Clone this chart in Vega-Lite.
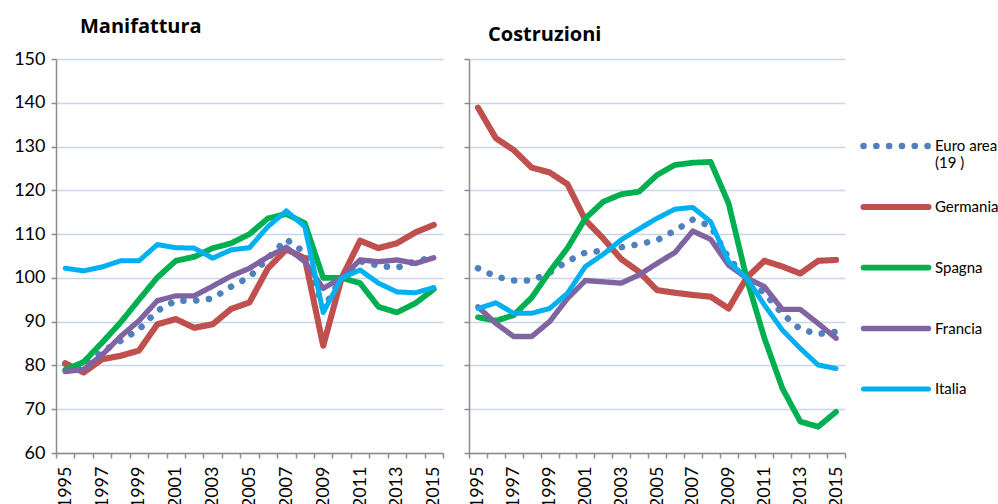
{
 "$schema": "https://vega.github.io/schema/vega-lite/v6.json",
 "background": "white",
 "padding": {"left": 13, "top": 17, "right": 5, "bottom": 5},
 "config": {
  "font": "Lato",
  "view": {"stroke": null},
  "concat": {"spacing": 16},
  "axis": {"domainColor": "#8c8c8c", "domainWidth": 1.5, "tickColor": "#8c8c8c", "tickWidth": 1.5, "tickSize": 5, "gridColor": "#C8D6EA", "gridWidth": 1.5, "labelFont": "Lato", "labelFontSize": 18, "labelColor": "#000000", "title": null},
  "title": {"font": "Open Sans", "fontSize": 20, "fontWeight": "bold", "color": "#000000", "anchor": "start", "frame": "group"},
  "legend": {"orient": "none", "legendX": 804, "legendY": 51, "symbolType": "stroke", "symbolSize": 4225, "symbolStrokeWidth": 5, "labelFont": "Lato", "labelFontSize": 15, "labelColor": "#000000", "labelLimit": 0, "labelOffset": 3, "rowPadding": 0, "gridAlign": "all", "title": null}
 },
 "resolve": {"scale": {"color": "shared", "strokeDash": "shared", "strokeWidth": "shared"}},
 "data": {"values": [
  {"p":"Manifattura","s":"Euro area (19 )","a":1995,"v":80.4},{"p":"Manifattura","s":"Euro area (19 )","a":1996,"v":79.6},{"p":"Manifattura","s":"Euro area (19 )","a":1997,"v":83.2},{"p":"Manifattura","s":"Euro area (19 )","a":1998,"v":85.6},{"p":"Manifattura","s":"Euro area (19 )","a":1999,"v":88.2},{"p":"Manifattura","s":"Euro area (19 )","a":2000,"v":92.5},{"p":"Manifattura","s":"Euro area (19 )","a":2001,"v":94.8},{"p":"Manifattura","s":"Euro area (19 )","a":2002,"v":94.8},{"p":"Manifattura","s":"Euro area (19 )","a":2003,"v":95.3},{"p":"Manifattura","s":"Euro area (19 )","a":2004,"v":98.0},{"p":"Manifattura","s":"Euro area (19 )","a":2005,"v":100.2},{"p":"Manifattura","s":"Euro area (19 )","a":2006,"v":104.5},{"p":"Manifattura","s":"Euro area (19 )","a":2007,"v":108.8},{"p":"Manifattura","s":"Euro area (19 )","a":2008,"v":105.8},{"p":"Manifattura","s":"Euro area (19 )","a":2009,"v":93.0},{"p":"Manifattura","s":"Euro area (19 )","a":2010,"v":100.0},{"p":"Manifattura","s":"Euro area (19 )","a":2011,"v":103.8},{"p":"Manifattura","s":"Euro area (19 )","a":2012,"v":102.8},{"p":"Manifattura","s":"Euro area (19 )","a":2013,"v":102.3},{"p":"Manifattura","s":"Euro area (19 )","a":2014,"v":103.8},{"p":"Manifattura","s":"Euro area (19 )","a":2015,"v":104.7},
  {"p":"Manifattura","s":"Germania","a":1995,"v":80.5},{"p":"Manifattura","s":"Germania","a":1996,"v":78.4},{"p":"Manifattura","s":"Germania","a":1997,"v":81.4},{"p":"Manifattura","s":"Germania","a":1998,"v":82.2},{"p":"Manifattura","s":"Germania","a":1999,"v":83.4},{"p":"Manifattura","s":"Germania","a":2000,"v":89.4},{"p":"Manifattura","s":"Germania","a":2001,"v":90.6},{"p":"Manifattura","s":"Germania","a":2002,"v":88.6},{"p":"Manifattura","s":"Germania","a":2003,"v":89.4},{"p":"Manifattura","s":"Germania","a":2004,"v":92.9},{"p":"Manifattura","s":"Germania","a":2005,"v":94.4},{"p":"Manifattura","s":"Germania","a":2006,"v":102.2},{"p":"Manifattura","s":"Germania","a":2007,"v":106.5},{"p":"Manifattura","s":"Germania","a":2008,"v":104.5},{"p":"Manifattura","s":"Germania","a":2009,"v":84.5},{"p":"Manifattura","s":"Germania","a":2010,"v":100.0},{"p":"Manifattura","s":"Germania","a":2011,"v":108.5},{"p":"Manifattura","s":"Germania","a":2012,"v":106.8},{"p":"Manifattura","s":"Germania","a":2013,"v":107.9},{"p":"Manifattura","s":"Germania","a":2014,"v":110.4},{"p":"Manifattura","s":"Germania","a":2015,"v":112.1},
  {"p":"Manifattura","s":"Spagna","a":1995,"v":79.0},{"p":"Manifattura","s":"Spagna","a":1996,"v":80.8},{"p":"Manifattura","s":"Spagna","a":1997,"v":85.2},{"p":"Manifattura","s":"Spagna","a":1998,"v":89.8},{"p":"Manifattura","s":"Spagna","a":1999,"v":95.0},{"p":"Manifattura","s":"Spagna","a":2000,"v":100.1},{"p":"Manifattura","s":"Spagna","a":2001,"v":103.9},{"p":"Manifattura","s":"Spagna","a":2002,"v":104.8},{"p":"Manifattura","s":"Spagna","a":2003,"v":106.8},{"p":"Manifattura","s":"Spagna","a":2004,"v":107.9},{"p":"Manifattura","s":"Spagna","a":2005,"v":110.0},{"p":"Manifattura","s":"Spagna","a":2006,"v":113.6},{"p":"Manifattura","s":"Spagna","a":2007,"v":114.6},{"p":"Manifattura","s":"Spagna","a":2008,"v":112.5},{"p":"Manifattura","s":"Spagna","a":2009,"v":100.0},{"p":"Manifattura","s":"Spagna","a":2010,"v":100.0},{"p":"Manifattura","s":"Spagna","a":2011,"v":98.8},{"p":"Manifattura","s":"Spagna","a":2012,"v":93.4},{"p":"Manifattura","s":"Spagna","a":2013,"v":92.1},{"p":"Manifattura","s":"Spagna","a":2014,"v":94.2},{"p":"Manifattura","s":"Spagna","a":2015,"v":97.4},
  {"p":"Manifattura","s":"Francia","a":1995,"v":78.6},{"p":"Manifattura","s":"Francia","a":1996,"v":79.1},{"p":"Manifattura","s":"Francia","a":1997,"v":82.4},{"p":"Manifattura","s":"Francia","a":1998,"v":86.6},{"p":"Manifattura","s":"Francia","a":1999,"v":90.2},{"p":"Manifattura","s":"Francia","a":2000,"v":94.8},{"p":"Manifattura","s":"Francia","a":2001,"v":95.9},{"p":"Manifattura","s":"Francia","a":2002,"v":95.9},{"p":"Manifattura","s":"Francia","a":2003,"v":98.1},{"p":"Manifattura","s":"Francia","a":2004,"v":100.4},{"p":"Manifattura","s":"Francia","a":2005,"v":102.2},{"p":"Manifattura","s":"Francia","a":2006,"v":104.8},{"p":"Manifattura","s":"Francia","a":2007,"v":107.0},{"p":"Manifattura","s":"Francia","a":2008,"v":103.7},{"p":"Manifattura","s":"Francia","a":2009,"v":97.6},{"p":"Manifattura","s":"Francia","a":2010,"v":100.0},{"p":"Manifattura","s":"Francia","a":2011,"v":104.1},{"p":"Manifattura","s":"Francia","a":2012,"v":103.7},{"p":"Manifattura","s":"Francia","a":2013,"v":104.1},{"p":"Manifattura","s":"Francia","a":2014,"v":103.3},{"p":"Manifattura","s":"Francia","a":2015,"v":104.6},
  {"p":"Manifattura","s":"Italia","a":1995,"v":102.2},{"p":"Manifattura","s":"Italia","a":1996,"v":101.6},{"p":"Manifattura","s":"Italia","a":1997,"v":102.5},{"p":"Manifattura","s":"Italia","a":1998,"v":103.9},{"p":"Manifattura","s":"Italia","a":1999,"v":103.9},{"p":"Manifattura","s":"Italia","a":2000,"v":107.6},{"p":"Manifattura","s":"Italia","a":2001,"v":106.9},{"p":"Manifattura","s":"Italia","a":2002,"v":106.8},{"p":"Manifattura","s":"Italia","a":2003,"v":104.5},{"p":"Manifattura","s":"Italia","a":2004,"v":106.4},{"p":"Manifattura","s":"Italia","a":2005,"v":106.9},{"p":"Manifattura","s":"Italia","a":2006,"v":111.7},{"p":"Manifattura","s":"Italia","a":2007,"v":115.3},{"p":"Manifattura","s":"Italia","a":2008,"v":111.7},{"p":"Manifattura","s":"Italia","a":2009,"v":92.1},{"p":"Manifattura","s":"Italia","a":2010,"v":100.0},{"p":"Manifattura","s":"Italia","a":2011,"v":101.8},{"p":"Manifattura","s":"Italia","a":2012,"v":98.8},{"p":"Manifattura","s":"Italia","a":2013,"v":96.8},{"p":"Manifattura","s":"Italia","a":2014,"v":96.6},{"p":"Manifattura","s":"Italia","a":2015,"v":97.8},
  {"p":"Costruzioni","s":"Euro area (19 )","a":1995,"v":102.2},{"p":"Costruzioni","s":"Euro area (19 )","a":1996,"v":100.3},{"p":"Costruzioni","s":"Euro area (19 )","a":1997,"v":99.4},{"p":"Costruzioni","s":"Euro area (19 )","a":1998,"v":99.4},{"p":"Costruzioni","s":"Euro area (19 )","a":1999,"v":101.2},{"p":"Costruzioni","s":"Euro area (19 )","a":2000,"v":103.8},{"p":"Costruzioni","s":"Euro area (19 )","a":2001,"v":105.8},{"p":"Costruzioni","s":"Euro area (19 )","a":2002,"v":106.2},{"p":"Costruzioni","s":"Euro area (19 )","a":2003,"v":107.0},{"p":"Costruzioni","s":"Euro area (19 )","a":2004,"v":107.7},{"p":"Costruzioni","s":"Euro area (19 )","a":2005,"v":108.6},{"p":"Costruzioni","s":"Euro area (19 )","a":2006,"v":110.8},{"p":"Costruzioni","s":"Euro area (19 )","a":2007,"v":113.3},{"p":"Costruzioni","s":"Euro area (19 )","a":2008,"v":111.8},{"p":"Costruzioni","s":"Euro area (19 )","a":2009,"v":104.5},{"p":"Costruzioni","s":"Euro area (19 )","a":2010,"v":100.0},{"p":"Costruzioni","s":"Euro area (19 )","a":2011,"v":96.5},{"p":"Costruzioni","s":"Euro area (19 )","a":2012,"v":91.8},{"p":"Costruzioni","s":"Euro area (19 )","a":2013,"v":88.3},{"p":"Costruzioni","s":"Euro area (19 )","a":2014,"v":87.2},{"p":"Costruzioni","s":"Euro area (19 )","a":2015,"v":87.7},
  {"p":"Costruzioni","s":"Germania","a":1995,"v":138.9},{"p":"Costruzioni","s":"Germania","a":1996,"v":131.9},{"p":"Costruzioni","s":"Germania","a":1997,"v":129.2},{"p":"Costruzioni","s":"Germania","a":1998,"v":125.2},{"p":"Costruzioni","s":"Germania","a":1999,"v":124.1},{"p":"Costruzioni","s":"Germania","a":2000,"v":121.4},{"p":"Costruzioni","s":"Germania","a":2001,"v":113.2},{"p":"Costruzioni","s":"Germania","a":2002,"v":109.0},{"p":"Costruzioni","s":"Germania","a":2003,"v":104.3},{"p":"Costruzioni","s":"Germania","a":2004,"v":101.4},{"p":"Costruzioni","s":"Germania","a":2005,"v":97.2},{"p":"Costruzioni","s":"Germania","a":2006,"v":96.6},{"p":"Costruzioni","s":"Germania","a":2007,"v":96.1},{"p":"Costruzioni","s":"Germania","a":2008,"v":95.7},{"p":"Costruzioni","s":"Germania","a":2009,"v":93.0},{"p":"Costruzioni","s":"Germania","a":2010,"v":100.0},{"p":"Costruzioni","s":"Germania","a":2011,"v":103.9},{"p":"Costruzioni","s":"Germania","a":2012,"v":102.6},{"p":"Costruzioni","s":"Germania","a":2013,"v":101.0},{"p":"Costruzioni","s":"Germania","a":2014,"v":103.9},{"p":"Costruzioni","s":"Germania","a":2015,"v":104.1},
  {"p":"Costruzioni","s":"Spagna","a":1995,"v":91.0},{"p":"Costruzioni","s":"Spagna","a":1996,"v":90.2},{"p":"Costruzioni","s":"Spagna","a":1997,"v":91.5},{"p":"Costruzioni","s":"Spagna","a":1998,"v":95.5},{"p":"Costruzioni","s":"Spagna","a":1999,"v":101.4},{"p":"Costruzioni","s":"Spagna","a":2000,"v":106.8},{"p":"Costruzioni","s":"Spagna","a":2001,"v":113.6},{"p":"Costruzioni","s":"Spagna","a":2002,"v":117.4},{"p":"Costruzioni","s":"Spagna","a":2003,"v":119.1},{"p":"Costruzioni","s":"Spagna","a":2004,"v":119.7},{"p":"Costruzioni","s":"Spagna","a":2005,"v":123.5},{"p":"Costruzioni","s":"Spagna","a":2006,"v":125.8},{"p":"Costruzioni","s":"Spagna","a":2007,"v":126.3},{"p":"Costruzioni","s":"Spagna","a":2008,"v":126.5},{"p":"Costruzioni","s":"Spagna","a":2009,"v":117.0},{"p":"Costruzioni","s":"Spagna","a":2010,"v":100.0},{"p":"Costruzioni","s":"Spagna","a":2011,"v":86.2},{"p":"Costruzioni","s":"Spagna","a":2012,"v":74.8},{"p":"Costruzioni","s":"Spagna","a":2013,"v":67.2},{"p":"Costruzioni","s":"Spagna","a":2014,"v":66.0},{"p":"Costruzioni","s":"Spagna","a":2015,"v":69.4},
  {"p":"Costruzioni","s":"Francia","a":1995,"v":93.4},{"p":"Costruzioni","s":"Francia","a":1996,"v":89.6},{"p":"Costruzioni","s":"Francia","a":1997,"v":86.6},{"p":"Costruzioni","s":"Francia","a":1998,"v":86.6},{"p":"Costruzioni","s":"Francia","a":1999,"v":90.0},{"p":"Costruzioni","s":"Francia","a":2000,"v":95.3},{"p":"Costruzioni","s":"Francia","a":2001,"v":99.4},{"p":"Costruzioni","s":"Francia","a":2002,"v":99.1},{"p":"Costruzioni","s":"Francia","a":2003,"v":98.8},{"p":"Costruzioni","s":"Francia","a":2004,"v":100.7},{"p":"Costruzioni","s":"Francia","a":2005,"v":103.3},{"p":"Costruzioni","s":"Francia","a":2006,"v":105.8},{"p":"Costruzioni","s":"Francia","a":2007,"v":110.7},{"p":"Costruzioni","s":"Francia","a":2008,"v":108.8},{"p":"Costruzioni","s":"Francia","a":2009,"v":102.9},{"p":"Costruzioni","s":"Francia","a":2010,"v":100.0},{"p":"Costruzioni","s":"Francia","a":2011,"v":98.0},{"p":"Costruzioni","s":"Francia","a":2012,"v":92.8},{"p":"Costruzioni","s":"Francia","a":2013,"v":92.8},{"p":"Costruzioni","s":"Francia","a":2014,"v":89.6},{"p":"Costruzioni","s":"Francia","a":2015,"v":86.2},
  {"p":"Costruzioni","s":"Italia","a":1995,"v":93.0},{"p":"Costruzioni","s":"Italia","a":1996,"v":94.3},{"p":"Costruzioni","s":"Italia","a":1997,"v":91.9},{"p":"Costruzioni","s":"Italia","a":1998,"v":91.9},{"p":"Costruzioni","s":"Italia","a":1999,"v":93.0},{"p":"Costruzioni","s":"Italia","a":2000,"v":96.5},{"p":"Costruzioni","s":"Italia","a":2001,"v":102.6},{"p":"Costruzioni","s":"Italia","a":2002,"v":105.4},{"p":"Costruzioni","s":"Italia","a":2003,"v":108.7},{"p":"Costruzioni","s":"Italia","a":2004,"v":111.2},{"p":"Costruzioni","s":"Italia","a":2005,"v":113.6},{"p":"Costruzioni","s":"Italia","a":2006,"v":115.7},{"p":"Costruzioni","s":"Italia","a":2007,"v":116.1},{"p":"Costruzioni","s":"Italia","a":2008,"v":112.8},{"p":"Costruzioni","s":"Italia","a":2009,"v":103.7},{"p":"Costruzioni","s":"Italia","a":2010,"v":100.0},{"p":"Costruzioni","s":"Italia","a":2011,"v":93.8},{"p":"Costruzioni","s":"Italia","a":2012,"v":88.1},{"p":"Costruzioni","s":"Italia","a":2013,"v":83.9},{"p":"Costruzioni","s":"Italia","a":2014,"v":80.1},{"p":"Costruzioni","s":"Italia","a":2015,"v":79.3}
 ]},
 "hconcat": [
  {
   "title": {"text": "Manifattura", "dx": 24, "offset": 13},
   "width": 387, "height": 394,
   "transform": [{"filter": "datum.p == 'Manifattura'"}],
   "mark": {"type": "line", "strokeCap": "round", "strokeJoin": "round"},
   "encoding": {
    "x": {"field": "a", "type": "ordinal", "bandPosition": 0.5, "scale": {"type": "band", "paddingInner": 0, "paddingOuter": 0},
          "axis": {"grid": false, "tickBand": "extent", "labelAngle": -90, "labelPadding": 8, "labelExpr": "datum.value % 2 == 1 ? datum.label : ''"}},
    "y": {"field": "v", "type": "quantitative", "scale": {"domain": [60, 150], "nice": false, "zero": false},
          "axis": {"values": [60, 70, 80, 90, 100, 110, 120, 130, 140, 150], "grid": true, "labelPadding": 6}},
    "color": {"field": "s", "type": "nominal", "scale": {"domain": ["Euro area (19 )", "Germania", "Spagna", "Francia", "Italia"], "range": ["#4F81BD", "#C0504D", "#00B050", "#8064A2", "#00B0F0"]},
              "legend": {"labelExpr": "datum.label == 'Euro area (19 )' ? ['Euro area', '(19 )'] : datum.label", "encode": {"symbols": {"update": {"strokeCap": {"value": "round"}}}}}},
    "strokeDash": {"field": "s", "type": "nominal", "scale": {"domain": ["Euro area (19 )", "Germania", "Spagna", "Francia", "Italia"], "range": [[0.1, 12.7], [1, 0], [1, 0], [1, 0], [1, 0]]},
              "legend": {"labelExpr": "datum.label == 'Euro area (19 )' ? ['Euro area', '(19 )'] : datum.label", "encode": {"symbols": {"update": {"strokeCap": {"value": "round"}}}}}},
    "strokeWidth": {"field": "s", "type": "nominal", "scale": {"domain": ["Euro area (19 )", "Germania", "Spagna", "Francia", "Italia"], "range": [6.5, 5, 5, 5, 5]}, "legend": null}
   }
  },
  {
   "title": {"text": "Costruzioni", "dx": 19, "offset": 13},
   "width": 376, "height": 394,
   "transform": [{"filter": "datum.p == 'Costruzioni'"}],
   "mark": {"type": "line", "strokeCap": "round", "strokeJoin": "round"},
   "encoding": {
    "x": {"field": "a", "type": "ordinal", "bandPosition": 0.5, "scale": {"type": "band", "paddingInner": 0, "paddingOuter": 0},
          "axis": {"grid": false, "tickBand": "extent", "labelAngle": -90, "labelPadding": 8, "labelExpr": "datum.value % 2 == 1 ? datum.label : ''"}},
    "y": {"field": "v", "type": "quantitative", "scale": {"domain": [60, 150], "nice": false, "zero": false},
          "axis": {"values": [60, 70, 80, 90, 100, 110, 120, 130, 140, 150], "grid": true, "labels": false}},
    "color": {"field": "s", "type": "nominal", "scale": {"domain": ["Euro area (19 )", "Germania", "Spagna", "Francia", "Italia"], "range": ["#4F81BD", "#C0504D", "#00B050", "#8064A2", "#00B0F0"]},
              "legend": {"labelExpr": "datum.label == 'Euro area (19 )' ? ['Euro area', '(19 )'] : datum.label", "encode": {"symbols": {"update": {"strokeCap": {"value": "round"}}}}}},
    "strokeDash": {"field": "s", "type": "nominal", "scale": {"domain": ["Euro area (19 )", "Germania", "Spagna", "Francia", "Italia"], "range": [[0.1, 12.7], [1, 0], [1, 0], [1, 0], [1, 0]]},
              "legend": {"labelExpr": "datum.label == 'Euro area (19 )' ? ['Euro area', '(19 )'] : datum.label", "encode": {"symbols": {"update": {"strokeCap": {"value": "round"}}}}}},
    "strokeWidth": {"field": "s", "type": "nominal", "scale": {"domain": ["Euro area (19 )", "Germania", "Spagna", "Francia", "Italia"], "range": [6.5, 5, 5, 5, 5]}, "legend": null}
   }
  }
 ]
}
